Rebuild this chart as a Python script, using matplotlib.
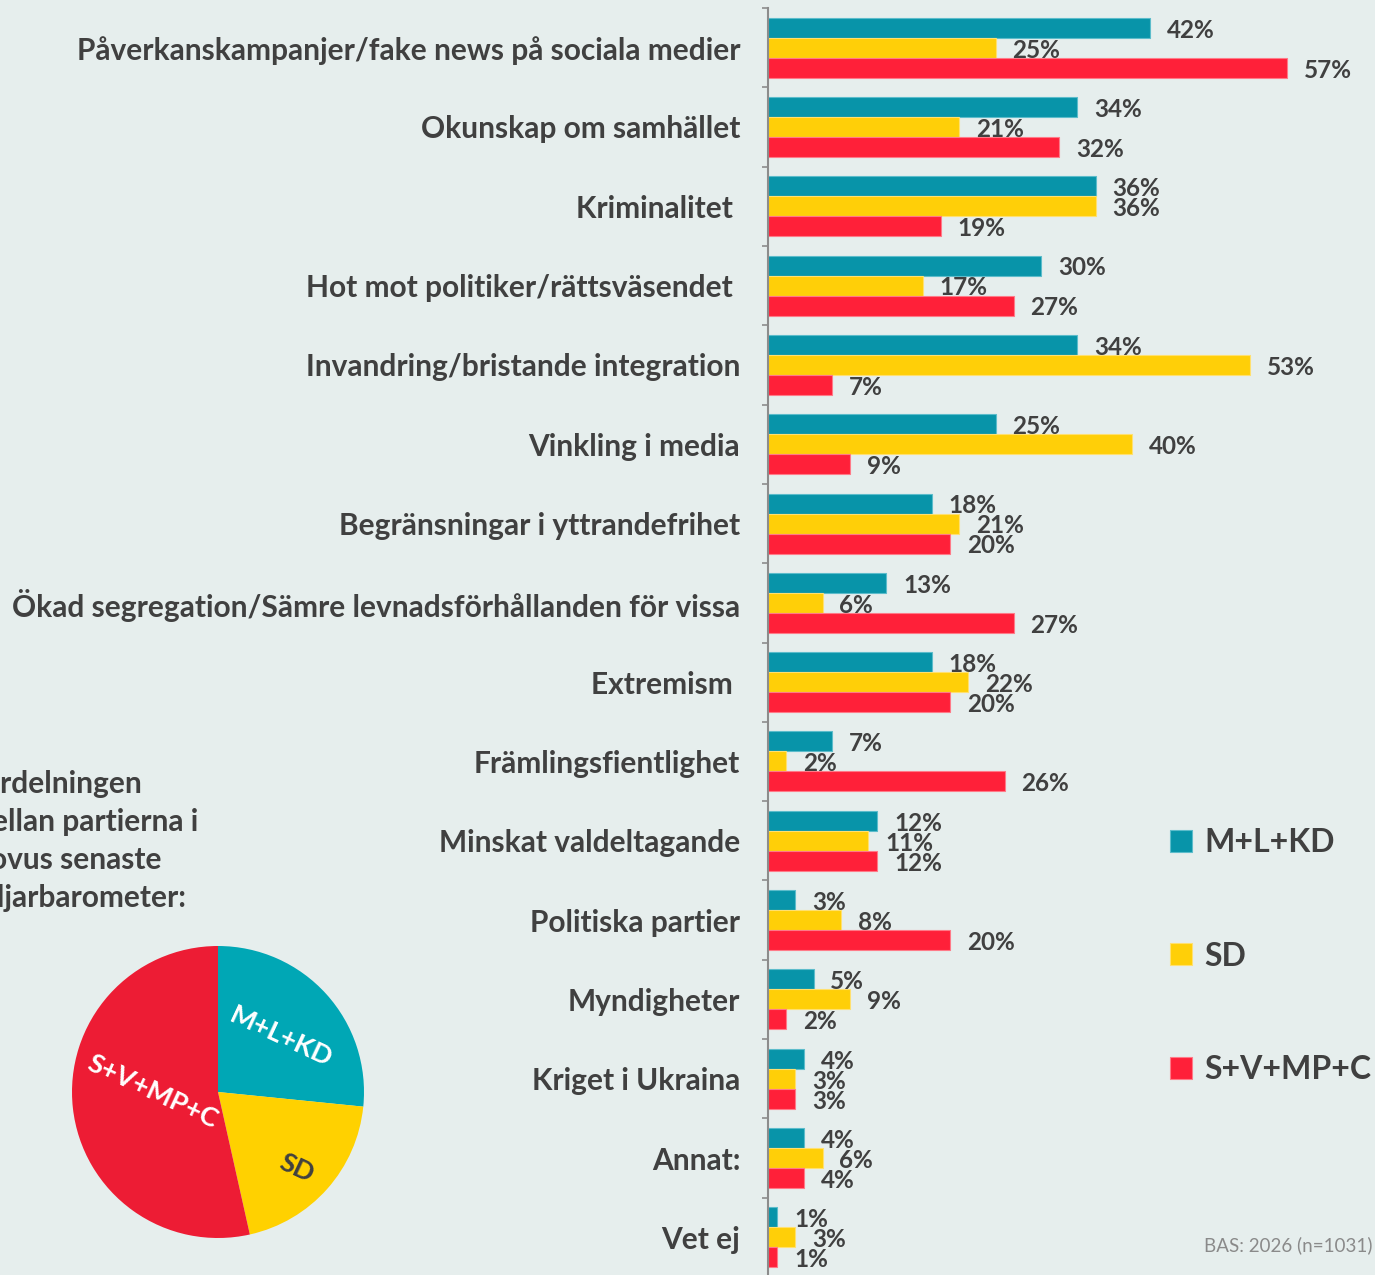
import matplotlib
matplotlib.use("Agg")
import matplotlib.pyplot as plt
import numpy as np

plt.rcParams['font.family'] = ['Lato', 'DejaVu Sans']

categories = [
    "Påverkanskampanjer/fake news på sociala medier",
    "Okunskap om samhället",
    "Kriminalitet ",
    "Hot mot politiker/rättsväsendet ",
    "Invandring/bristande integration",
    "Vinkling i media",
    "Begränsningar i yttrandefrihet",
    "Ökad segregation/Sämre levnadsförhållanden för vissa",
    "Extremism ",
    "Främlingsfientlighet",
    "Minskat valdeltagande",
    "Politiska partier",
    "Myndigheter",
    "Kriget i Ukraina",
    "Annat:",
    "Vet ej",
]
series_names = ["M+L+KD", "SD", "S+V+MP+C"]
mlkd = [42, 34, 36, 30, 34, 25, 18, 13, 18, 7, 12, 3, 5, 4, 4, 1]
sd = [25, 21, 36, 17, 53, 40, 21, 6, 22, 2, 11, 8, 9, 3, 6, 3]
svmpc = [57, 32, 19, 27, 7, 9, 20, 27, 20, 26, 12, 20, 2, 3, 4, 1]

pie_share = [26.6, 19.9, 53.5]

bg = "#e6eeed"
txt = "#404040"
bar_cols = ["#0894a9", "#ffcf08", "#ff2039"]
bar_edges = ["#5cbccb", "#ffe070", "#ff7a88"]
pie_cols = ["#00a7b5", "#ffd100", "#ed1c34"]

W, H = 1375, 1275
fig = plt.figure(figsize=(W / 100, H / 100), dpi=100, facecolor=bg)

# main bar chart
ax = fig.add_axes([768 / W, (H - 1277) / H, 607 / W, 1269 / H])
ax.set_facecolor(bg)
y = np.arange(len(categories))
bh = 0.252
bars = []
for k, vals in enumerate([mlkd, sd, svmpc]):
    b = ax.barh(y + (k - 1) * bh, vals, height=bh, color=bar_cols[k],
                edgecolor=bar_edges[k], linewidth=0.8, label=series_names[k])
    bars.append(b)
    for yi, v in zip(y, vals):
        ax.text(v + 1.85, yi + (k - 1) * bh + 0.03, f"{v}%", va="center", ha="left",
                fontsize=17.5, fontweight="bold", color=txt)

ax.set_xlim(0, 607 / 9.1)
ax.set_ylim(len(categories) - 0.5, -0.5)
ax.set_yticks(y, categories, fontsize=21.5, fontweight="bold", color=txt)
ax.set_yticks(np.arange(-0.5, len(categories), 1), minor=True)
ax.tick_params(axis="y", which="major", length=0, pad=20)
ax.tick_params(axis="y", which="minor", length=4.5, width=1.2, color="#8c8c8c", direction="out")
ax.set_xticks([])
for s in ["top", "right", "bottom"]:
    ax.spines[s].set_visible(False)
ax.spines["left"].set_color("#8c8c8c")
ax.spines["left"].set_linewidth(1.5)

fig.legend(handles=bars, labels=series_names, loc="upper left",
           bbox_to_anchor=(1170 / W, 1 - 828 / H), frameon=False,
           prop={"weight": "bold", "size": 23}, labelcolor=txt,
           handlelength=0.68, handleheight=0.68, handletextpad=0.4,
           labelspacing=2.65, borderpad=0, borderaxespad=0)

fig.text(1372 / W, 1 - 1245 / H, "BAS: 2026 (n=1031)", ha="right", va="center",
         fontsize=13.5, color="#8a8a8a")

# pie with party shares
fig.text(-33 / W, 1 - 770 / H,
         "Fördelningen\nmellan partierna i\nNovus senaste\nväljarbarometer:",
         ha="left", va="top", fontsize=21.5, fontweight="bold", color=txt,
         linespacing=1.43)

pax = fig.add_axes([(218 - 146) / W, (H - 1092 - 146) / H, 292 / W, 292 / H])
pax.pie(pie_share, colors=pie_cols, startangle=90, counterclock=False,
        wedgeprops={"linewidth": 0})
pax.set_xlim(-1, 1)
pax.set_ylim(-1, 1)
pax.text(0.43, 0.377, "M+L+KD", rotation=-25, ha="center", va="center",
         fontsize=19.5, fontweight="bold", color="white")
pax.text(0.54, -0.52, "SD", rotation=-25, ha="center", va="center",
         fontsize=19.5, fontweight="bold", color=txt)
pax.text(-0.445, 0.0, "S+V+MP+C", rotation=-25, ha="center", va="center",
         fontsize=19.5, fontweight="bold", color="white")

fig.savefig("out.png", dpi=100, facecolor=bg)
